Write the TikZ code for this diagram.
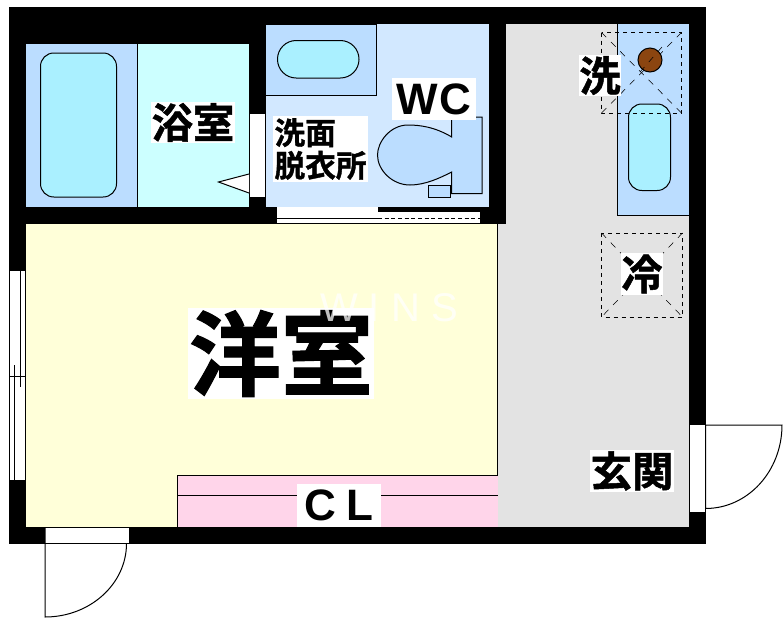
\documentclass[tikz,border=0pt]{standalone}
\usepackage{fontspec}
\setmainfont{Liberation Sans}
\newfontfamily\jpfont[FakeBold=1.2]{Noto Sans CJK JP Bold}
\definecolor{floorgrey}{HTML}{E3E3E3}
\definecolor{roomyellow}{HTML}{FFFFD9}
\definecolor{bathcyan}{HTML}{CCFFFF}
\definecolor{unitblue}{HTML}{BBDDFF}
\definecolor{washblue}{HTML}{D2E8FF}
\definecolor{tubcyan}{HTML}{AAF0FF}
\definecolor{closetpink}{HTML}{FFD5EA}
\definecolor{drainbrown}{HTML}{8B4510}
\begin{document}
\begin{tikzpicture}[
        x=0.75pt, y=-0.75pt,
        plan/.style={draw=black, line width=0.75pt},
        tub/.style={plan, fill=tubcyan, rounded corners=10pt},
        opening/.style={fill=white},
        spot/.style={draw=black, dashed, line width=0.6pt},
        spotcross/.style={draw=black, dash pattern=on 5pt off 5pt, line width=0.4pt},
        jplabel/.style={fill=white, inner sep=0pt, font=\jpfont, text=black},
        latinlabel/.style={fill=white, inner sep=0pt, font=\bfseries, text=black}
    ]
        \useasboundingbox (0,0) rectangle (783,622);
        \fill[white] (0,0) rectangle (783,622);
        \fill[black] (9,7) rectangle (706,544);
        \fill[floorgrey] (506,24) rectangle (689,527);
        \fill[floorgrey] (497,224) rectangle (506,527);
        \fill[roomyellow] (26,224) rectangle (497.5,527);
        \draw[plan] (497.5,224) -- (497.5,527);

        \fill[unitblue] (26,44) rectangle (137.5,207);
        \fill[bathcyan] (137.5,44) rectangle (249,207);
        \draw[plan] (137.5,44) -- (137.5,207);
        \draw[tub] (40.5,53) rectangle (116.5,197);

        \fill[washblue] (266,24) rectangle (489,207);
        \draw[plan, fill=unitblue] (266,24) -- (376.5,24) -- (376.5,95) -- (266,95);
        \draw[tub, rounded corners=14pt] (277.5,40.5) rectangle (359,78);

        \fill[opening] (250,114) rectangle (265,197);
        \draw[plan] (265.5,114) -- (265.5,197);
        \draw[plan, fill=white] (249,174) -- (218.5,182) -- (249,193);

        \fill[opening] (276,207) rectangle (378,223);
        \fill[opening] (378,212) rectangle (480,223);
        \draw[plan] (276.5,207) -- (276.5,223);
        \draw[plan] (277,218) -- (378,218);
        \draw[plan, densely dashed] (378,218) -- (480,218);

        \draw[plan, fill=unitblue] (451.7,137) -- (451.7,117) -- (482,117) -- (482,193.5) -- (451.7,193.5) -- (451.7,172)
            .. controls (440,178) and (425,185) .. (410,185)
            .. controls (392,185) and (377.5,170) .. (377.5,155)
            .. controls (377.5,142) and (390,125) .. (408,125)
            .. controls (420,125) and (435,127) .. (451.7,137) -- cycle;
        \draw[plan, fill=unitblue] (428,185) rectangle (450,197.5);

        \fill[closetpink] (177.5,475.5) rectangle (497.5,527);
        \draw[plan] (177.5,527) -- (177.5,475.5) -- (497.5,475.5);
        \draw[plan] (177.5,495) -- (497.5,495);

        \fill[unitblue] (617.5,24) rectangle (689,215);
        \draw[plan] (617.5,24) -- (617.5,215) -- (689,215);
        \draw[tub] (628.5,104) rectangle (670.5,190.5);

        \draw[spot] (601.5,32.5) rectangle (681.5,113);
        \draw[spotcross] (601.5,32.5) -- (681.5,113);
        \draw[spotcross] (681.5,32.5) -- (601.5,113);
        \draw[plan, fill=drainbrown] (650,60) circle (12);
        \draw[spotcross] (662,47) -- (640,72);

        \draw[spot] (601.5,233) rectangle (682.5,317);
        \draw[spotcross] (601.5,233) -- (682.5,317);
        \draw[spotcross] (682.5,233) -- (601.5,317);

        \fill[opening] (9,271) rectangle (25.5,480);
        \draw[plan] (25.5,271) -- (25.5,480);
        \draw[plan] (9.5,271) -- (9.5,480);
        \draw[plan] (20.5,271) -- (20.5,387);
        \draw[plan] (14.5,365) -- (14.5,480);
        \draw[plan] (9,376.5) -- (25.5,376.5);

        \fill[opening] (45,527) rectangle (129,543.5);
        \draw[plan] (45,527) -- (129,527);
        \draw[plan] (45,543.5) -- (129,543.5);
        \draw[plan] (45,527) -- (45,617) .. controls (90,617) and (126.5,584) .. (126.5,543.5);

        \fill[opening] (689.5,425) rectangle (705,511.5);
        \draw[plan] (689.5,425) -- (689.5,511.5);
        \draw[plan] (705.5,508.5) -- (705.5,425) -- (782,425) .. controls (782,471) and (748,508.5) .. (705.5,508.5);

        \node[jplabel, font=\jpfont\fontsize{31pt}{32pt}\selectfont, minimum width=63pt, minimum height=31pt] (bathlabel) at (193,122.5) {浴室};
        \node[latinlabel, font=\bfseries\fontsize{33pt}{35pt}\selectfont, minimum width=63pt, minimum height=31.5pt] (wclabel) at (434,99) {W\kern1pt C};
        \node[jplabel, font=\jpfont\fontsize{23pt}{24.5pt}\selectfont, align=left, minimum width=71pt, minimum height=49pt] (washlabel) at (320.5,149) {洗面\\脱衣所};
        \node[jplabel, font=\jpfont\fontsize{31pt}{32pt}\selectfont, minimum width=32pt, minimum height=31pt] (laundrylabel) at (600,75.5) {洗};
        \node[jplabel, font=\jpfont\fontsize{31pt}{32pt}\selectfont, minimum width=31pt, minimum height=31pt] (fridgelabel) at (642,274) {冷};
        \node[jplabel, font=\jpfont\fontsize{31pt}{32pt}\selectfont, minimum width=63pt, minimum height=31pt] (entrylabel) at (632,471) {玄関};
        \node[jplabel, font=\jpfont\fontsize{69pt}{70pt}\selectfont, minimum width=139pt, minimum height=68pt] (roomlabel) at (281,353.5) {洋室};
        \node[latinlabel, font=\bfseries\fontsize{33pt}{35pt}\selectfont, minimum width=63pt, minimum height=32pt] (closetlabel) at (339,505.5) {C\kern8pt L};
        \node[font=\fontsize{30pt}{32pt}\selectfont, text=white, opacity=0.75, inner sep=0pt] (marklabel) at (389,308) {W I N S};
    \end{tikzpicture}
\end{document}
